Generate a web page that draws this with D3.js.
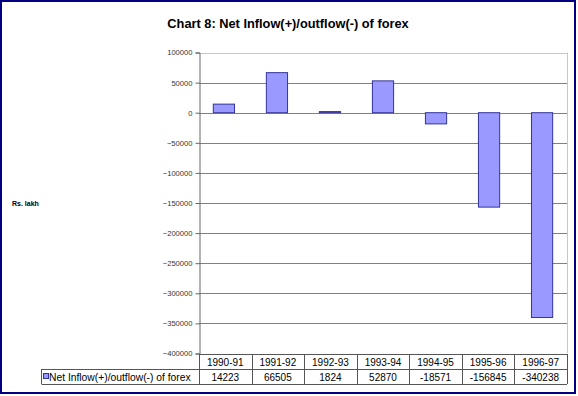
<!DOCTYPE html>
<html>
<head>
<meta charset="utf-8">
<script src="https://cdn.jsdelivr.net/npm/d3@7"></script>
<style>
  body { margin: 0; background: #fff; }
  svg text { font-family: "Liberation Sans", Arial, sans-serif; }
</style>
</head>
<body>
<div class="svg-content"></div>
<script>
const years = ["1990-91", "1991-92", "1992-93", "1993-94", "1994-95", "1995-96", "1996-97"];
const netFlow = [14223, 66505, 1824, 52870, -18571, -156845, -340238];
const yTicks = [100000, 50000, 0, -50000, -100000, -150000, -200000, -250000, -300000, -350000, -400000];
const seriesName = "Net Inflow(+)/outflow(-) of forex";

const svgWidth = 578;
const svgHeight = 396;
const plotLeft = 199, plotRight = 567, plotTop = 52.5, plotBottom = 353.5;

let svg = d3.select(".svg-content")
            .append("svg")
            .attr("width", svgWidth)
            .attr("height", svgHeight);

// outer navy frame
svg.append("rect")
   .attr("x", 1).attr("y", 1)
   .attr("width", 574).attr("height", 392)
   .attr("fill", "none")
   .attr("stroke", "#000080")
   .attr("stroke-width", 2);

svg.append("text")
   .attr("x", 288).attr("y", 28)
   .attr("text-anchor", "middle")
   .attr("font-size", "12.8px")
   .attr("font-weight", "bold")
   .text("Chart 8: Net Inflow(+)/outflow(-) of forex");

svg.append("text")
   .attr("x", 12).attr("y", 206)
   .attr("font-size", "7px")
   .attr("font-weight", "bold")
   .text("Rs. lakh");

const xScale = d3.scaleBand()
                 .domain(years)
                 .range([plotLeft, plotRight])
                 .paddingInner(0.6)
                 .paddingOuter(0.27);

const colScale = d3.scaleBand()
                   .domain(years)
                   .range([plotLeft, plotRight]);

const yScale = d3.scaleLinear()
                 .domain([-400000, 100000])
                 .range([plotBottom, plotTop]);

// gridlines
svg.append("g")
   .selectAll("line")
   .data(yTicks)
   .enter()
   .append("line")
   .attr("x1", plotLeft).attr("x2", plotRight)
   .attr("y1", d => Math.round(yScale(d)) + 0.5)
   .attr("y2", d => Math.round(yScale(d)) + 0.5)
   .attr("stroke", d => d === 100000 ? "#c8c8c8" : "#808080")
   .attr("stroke-width", 1);

// right plot border
svg.append("line")
   .attr("x1", plotRight + 0.5).attr("x2", plotRight + 0.5)
   .attr("y1", plotTop).attr("y2", plotBottom)
   .attr("stroke", "#c8c8c8");

const yAxis = d3.axisLeft(yScale)
                .tickValues(yTicks)
                .tickSize(4)
                .tickPadding(3)
                .tickFormat(d3.format("d"));

let yG = svg.append("g")
            .attr("transform", "translate(" + (plotLeft + 0.5) + ",0)")
            .call(yAxis);
yG.select(".domain").attr("stroke", "#666");
yG.selectAll(".tick line").attr("stroke", "#666");
yG.selectAll(".tick text")
  .attr("font-size", "7.6px")
  .attr("fill", "#333")
  .attr("font-family", "Liberation Sans, Arial, sans-serif");

svg.selectAll("rect.bar")
   .data(netFlow)
   .enter()
   .append("rect")
   .attr("class", "bar")
   .attr("x", (d, i) => xScale(years[i]))
   .attr("width", xScale.bandwidth())
   .attr("y", d => yScale(Math.max(0, d)))
   .attr("height", d => Math.abs(yScale(d) - yScale(0)))
   .attr("fill", "#9999ff")
   .attr("stroke", "#333399")
   .attr("stroke-width", 1);

// data table
const row1 = 354, row2 = 369, row3 = 384, legendLeft = 41.5;
let table = svg.append("g").attr("stroke", "#555").attr("fill", "none");
table.append("line").attr("x1", plotLeft).attr("x2", plotRight).attr("y1", row1 + 0.5).attr("y2", row1 + 0.5);
table.append("line").attr("x1", legendLeft).attr("x2", plotRight).attr("y1", row2 + 0.5).attr("y2", row2 + 0.5);
table.append("line").attr("x1", legendLeft).attr("x2", plotRight).attr("y1", row3 + 0.5).attr("y2", row3 + 0.5);
table.append("line").attr("x1", legendLeft).attr("x2", legendLeft).attr("y1", row2).attr("y2", row3);
table.selectAll("line.col")
     .data(years.concat(["end"]))
     .enter()
     .append("line")
     .attr("class", "col")
     .attr("x1", (d, i) => Math.round(plotLeft + colScale.bandwidth() * i) + 0.5)
     .attr("x2", (d, i) => Math.round(plotLeft + colScale.bandwidth() * i) + 0.5)
     .attr("y1", row1).attr("y2", row3);

svg.selectAll("text.year")
   .data(years)
   .enter()
   .append("text")
   .attr("class", "year")
   .attr("x", d => colScale(d) + colScale.bandwidth() / 2)
   .attr("y", row1 + 11.5)
   .attr("text-anchor", "middle")
   .attr("font-size", "10px")
   .text(d => d);

svg.selectAll("text.val")
   .data(netFlow)
   .enter()
   .append("text")
   .attr("class", "val")
   .attr("x", (d, i) => colScale(years[i]) + colScale.bandwidth() / 2)
   .attr("y", row2 + 11.5)
   .attr("text-anchor", "middle")
   .attr("font-size", "10px")
   .text(d => d);

svg.append("rect")
   .attr("x", 43.5).attr("y", row2 + 4.5)
   .attr("width", 5).attr("height", 5)
   .attr("fill", "#9999ff")
   .attr("stroke", "#333399");

svg.append("text")
   .attr("x", 49).attr("y", row2 + 11.5)
   .attr("font-size", "10.3px")
   .text(seriesName);
</script>
</body>
</html>
